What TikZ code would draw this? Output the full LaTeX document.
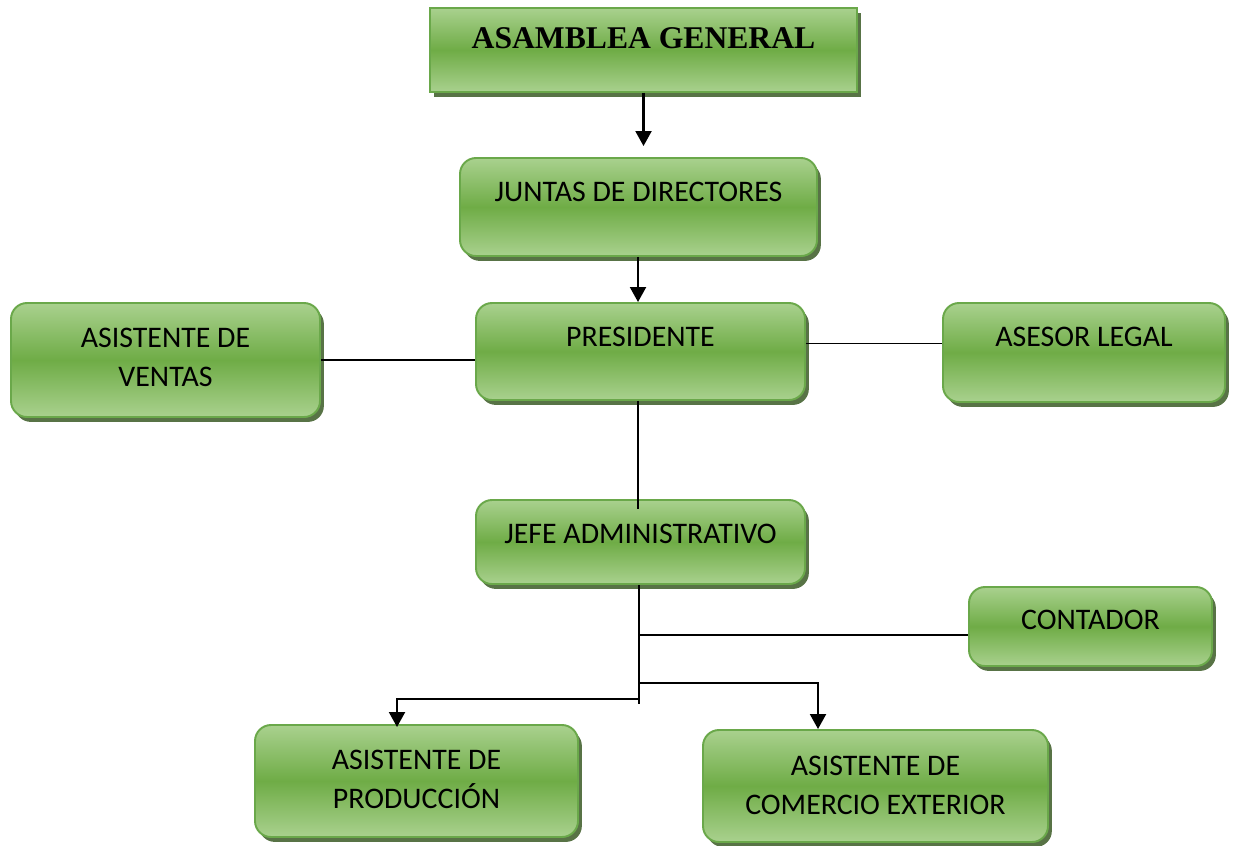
\documentclass[tikz,border=0pt]{standalone}
\usepackage{fontspec}
\setmainfont{Carlito}
\newfontfamily\titlefont{Liberation Serif}
\usetikzlibrary{shadows,arrows.meta}
\definecolor{gLight}{HTML}{A9D18E}
\definecolor{gMid}{HTML}{6FAC46}
\definecolor{gBorder}{HTML}{6AA84A}
\definecolor{gShadow}{HTML}{3B5B26}
\tikzset{
  orgbox/.style={draw=gBorder, line width=1.1pt, top color=gLight, bottom color=gLight, middle color=gMid,
    rounded corners=0.32cm, inner sep=0pt,
    drop shadow={shadow xshift=2.2pt, shadow yshift=-2.8pt, fill=gShadow, opacity=0.85}},
  squarebox/.style={orgbox, rounded corners=0pt},
  boxtext/.style={font=\fontsize{17}{22.2}\selectfont, align=center, anchor=north, inner sep=0pt},
  titletext/.style={font=\titlefont\bfseries\fontsize{18}{22}\selectfont, anchor=north, inner sep=0pt},
  link/.style={line width=0.9pt},
  arrowlink/.style={line width=1.4pt, -{Triangle[width=9pt,length=8.5pt]}}
}
% #1 style, #2 name, #3 x1, #4 y1, #5 x2, #6 y2 (pixels)
\newcommand\orgshape[6]{%
  \node[#1, minimum width={(#5-#3)*0.02cm}, minimum height={(#6-#4)*0.02cm}] (#2) at ({(#3+#5)/2},{(#4+#6)/2}) {};
}
\begin{document}
\begin{tikzpicture}[x=0.02cm, y=-0.02cm]
\useasboundingbox (0,0) rectangle (1233,845);

\orgshape{squarebox}{asamblea}{430}{8}{857}{92}
\orgshape{orgbox}{juntas}{460}{158}{817}{256}
\orgshape{orgbox}{presidente}{476}{303}{805}{400}
\orgshape{orgbox}{ventas}{11}{303}{320}{417}
\orgshape{orgbox}{asesor}{943}{303}{1225}{402}
\orgshape{orgbox}{jefe}{476}{500}{805}{584}
\orgshape{orgbox}{contador}{969}{587}{1212}{666}
\orgshape{orgbox}{produccion}{255}{725}{578}{837}
\orgshape{orgbox}{comercio}{703}{730}{1048}{842}

\node[titletext] (asamblea-t) at ([yshift=-0.4cm]asamblea.north) {ASAMBLEA GENERAL};
\node[boxtext] (juntas-t) at ([yshift=-0.5cm]juntas.north) {JUNTAS DE DIRECTORES};
\node[boxtext] (presidente-t) at ([yshift=-0.5cm]presidente.north) {PRESIDENTE};
\node[boxtext] (ventas-t) at ([yshift=-0.52cm]ventas.north) {ASISTENTE DE\\VENTAS};
\node[boxtext] (asesor-t) at ([yshift=-0.5cm]asesor.north) {ASESOR LEGAL};
\node[boxtext] (jefe-t) at ([yshift=-0.5cm]jefe.north) {JEFE ADMINISTRATIVO};
\node[boxtext] (contador-t) at ([yshift=-0.48cm]contador.north) {CONTADOR};
\node[boxtext] (produccion-t) at ([yshift=-0.52cm]produccion.north) {ASISTENTE DE\\PRODUCCIÓN};
\node[boxtext] (comercio-t) at ([yshift=-0.54cm]comercio.north) {ASISTENTE DE\\COMERCIO EXTERIOR};

% connectors
\draw[arrowlink, shorten >=0.22cm] (asamblea.south) -- (asamblea.south |- juntas.north);
\draw[arrowlink] ([xshift=-0.01cm]juntas.south) -- ([xshift=-0.01cm]juntas.south |- presidente.north);
\draw[link] (ventas.east) -- (ventas.east -| presidente.west);
\draw[link] ([yshift=0.16cm]presidente.east) -- ([yshift=0.16cm]presidente.east -| asesor.west);
\draw[link, shorten >=-0.2cm] ([xshift=-0.05cm]presidente.south) -- ([xshift=-0.05cm]presidente.south |- jefe.north);

\coordinate (jc) at ([xshift=-0.03cm, yshift=-1.0cm]jefe.south);
\coordinate (jm) at ([xshift=-0.03cm, yshift=-1.96cm]jefe.south);
\coordinate (jp) at ([xshift=-0.03cm, yshift=-2.28cm]jefe.south);
\coordinate (jend) at ([xshift=-0.03cm, yshift=-2.38cm]jefe.south);
\draw[line width=1.1pt] ([xshift=-0.03cm]jefe.south) -- (jend);
\draw[link] (jc) -- (jc -| contador.west);
\draw[arrowlink] (jm) -| ([xshift=2.32cm]comercio.north west);
\draw[arrowlink] (jp) -| ([xshift=2.86cm, yshift=-0.06cm]produccion.north west);
\end{tikzpicture}
\end{document}
